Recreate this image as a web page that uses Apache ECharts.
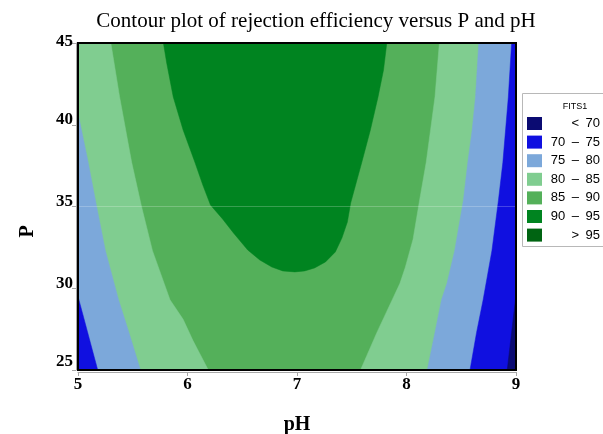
<!DOCTYPE html>
<html>
<head>
<meta charset="utf-8">
<script src="https://cdn.jsdelivr.net/npm/echarts@6/dist/echarts.min.js"></script>
<style>
  html, body { margin: 0; padding: 0; background: #fff; }
  #chart { width: 603px; height: 434px; }
</style>
</head>
<body>
<div id="chart"></div>
<script>
// contour levels as in the legend (top to bottom)
const levels = ["<\u200270", "70\u2002–\u200275", "75\u2002–\u200280", "80\u2002–\u200285", "85\u2002–\u200290", "90\u2002–\u200295", ">\u200295"];
const levelColors = ["#0b0b72", "#1010e0", "#7ca8da", "#80cd90", "#54b05a", "#008420", "#006412"];

// contour lines, [pH, P], top to bottom
const left70 = [[5.00, 29.5], [5.18, 25.0]];
const left75 = [[5.00, 40.7], [5.09, 37.8], [5.17, 35.0], [5.25, 32.3], [5.37, 29.3], [5.46, 27.4], [5.57, 25.0]];
const left80 = [[5.30, 45.0], [5.38, 41.7], [5.49, 37.7], [5.58, 35.0], [5.68, 32.3], [5.84, 29.3], [5.96, 28.1], [6.05, 26.8], [6.19, 25.0]];
const right85 = [[8.30, 45.0], [8.26, 41.7], [8.22, 39.7], [8.18, 37.7], [8.12, 35.4], [8.06, 33.0], [7.99, 31.3], [7.94, 30.3], [7.87, 29.3], [7.73, 27.3], [7.58, 25.0]];
const right80 = [[8.66, 45.0], [8.63, 41.7], [8.60, 39.7], [8.56, 37.7], [8.52, 35.4], [8.44, 32.3], [8.37, 30.3], [8.32, 29.3], [8.26, 27.3], [8.19, 25.0]];
const right75 = [[8.96, 45.0], [8.93, 41.7], [8.88, 37.7], [8.84, 35.4], [8.78, 32.3], [8.70, 29.3], [8.64, 27.3], [8.58, 25.0]];
const right70 = [[9.00, 29.6], [8.96, 27.3], [8.92, 25.0]];
// 90 contour, a U open at the top edge
const inner90 = [[5.78, 45.0], [5.81, 43.78], [5.87, 41.70], [5.96, 39.68], [6.07, 37.66], [6.14, 36.31], [6.21, 35.09],
  [6.32, 34.24], [6.42, 33.38], [6.55, 32.34], [6.66, 31.73], [6.77, 31.30], [6.87, 31.06], [6.98, 31.00], [7.07, 31.06],
  [7.16, 31.24], [7.26, 31.61], [7.35, 32.22], [7.41, 33.07], [7.46, 34.05], [7.49, 35.21], [7.54, 36.44], [7.59, 37.66],
  [7.67, 39.68], [7.74, 41.70], [7.79, 43.35], [7.82, 45.0]];

const pHMin = 5, pHMax = 9, pMin = 25, pMax = 45;
const toRight = (line) => [...line, [pHMax, pMin], [pHMax, pMax]];
const toLeft = (line) => [[pHMin, pMax], ...line, [pHMin, pMin]];

// regions per level, in drawing order
const regions = [
  [4, [[[pHMin, pMin], [pHMax, pMin], [pHMax, pMax], [pHMin, pMax]]]],
  [3, [toLeft(left80), toRight(right85)]],
  [2, [[...left75, [pHMin, pMin]], toRight(right80)]],
  [1, [[...left70, [pHMin, pMin]], toRight(right75)]],
  [0, [[...right70, [pHMax, pMin]]]],
  [5, [inner90]],
  [6, []],
];

const chart = echarts.init(document.getElementById("chart"));

const series = regions.map(([lv, polys]) => ({
  name: levels[lv],
  type: "custom",
  coordinateSystem: "cartesian2d",
  clip: true,
  silent: true,
  itemStyle: { color: levelColors[lv] },
  data: polys.map(p => p[0]),
  renderItem(params, api) {
    const poly = polys[params.dataIndex];
    return {
      type: "polygon",
      shape: { points: poly.map(pt => api.coord(pt)) },
      style: { fill: levelColors[lv], stroke: levelColors[lv], lineWidth: 0.5 },
    };
  },
  markLine: lv === 5 ? {
    silent: true, symbol: "none", label: { show: false },
    lineStyle: { color: "rgba(255,255,255,0.22)", width: 1, type: "solid" },
    data: [{ yAxis: 35 }],
  } : undefined,
}));

// black frame round the plot
series.push({
  type: "custom",
  name: "frame",
  coordinateSystem: "cartesian2d",
  silent: true,
  z: 10,
  data: [[pHMin, pMin]],
  renderItem(params) {
    const c = params.coordSys;
    return { type: "rect", shape: { x: c.x, y: c.y, width: c.width, height: c.height },
      style: { fill: null, stroke: "#000", lineWidth: 2 } };
  },
});

const serif = "Liberation Serif, Times New Roman, serif";
const axisCommon = {
  type: "value",
  offset: 2,
  axisLine: { show: true, lineStyle: { color: "#a8a8a8", width: 1 } },
  axisTick: { show: true, length: 4, lineStyle: { color: "#a8a8a8" } },
  splitLine: { show: false },
  axisLabel: { fontFamily: serif, fontWeight: "bold", fontSize: 17, color: "#000", margin: 3 },
  nameLocation: "middle",
  nameTextStyle: { fontFamily: serif, fontWeight: "bold", fontSize: 20, color: "#000" },
};

chart.setOption({
  animation: false,
  backgroundColor: "#fff",
  title: [
    { text: "Contour plot of rejection efficiency versus P and pH", left: 311, top: 6, textAlign: "center",
      textStyle: { fontFamily: serif, fontWeight: "normal", fontSize: 21, color: "#000" } },
    { text: "FITS1", left: 570, top: 97, textAlign: "center",
      textStyle: { fontFamily: "Liberation Sans Narrow, Liberation Sans, sans-serif", fontWeight: "normal", fontSize: 9, color: "#000" } },
  ],
  grid: { left: 78, right: 87, top: 43, bottom: 64, containLabel: false, outerBoundsMode: "none" },
  xAxis: { ...axisCommon, min: pHMin, max: pHMax, interval: 1, name: "pH", nameGap: 43,
    axisLabel: { ...axisCommon.axisLabel, margin: 4 } },
  yAxis: { ...axisCommon, min: pMin, max: pMax, interval: 5, name: "P", nameGap: 38, nameRotate: 90,
    nameTextStyle: { ...axisCommon.nameTextStyle, padding: [0, 50, 0, 0] },
    axisLabel: {
      ...axisCommon.axisLabel,
      formatter: (v) => v === pMax ? `{t|${v}}` : v === pMin ? `{l|${v}}` : `{m|${v}}`,
      rich: {
        t: { fontFamily: serif, fontWeight: "bold", fontSize: 17, padding: [0, 0, 3, 0] },
        m: { fontFamily: serif, fontWeight: "bold", fontSize: 17, padding: [0, 0, 10, 0] },
        l: { fontFamily: serif, fontWeight: "bold", fontSize: 17, padding: [0, 0, 16, 0] },
      },
    } },
  legend: {
    data: levels,
    orient: "vertical",
    left: 527, top: 117,
    itemWidth: 15, itemHeight: 13, itemGap: 5.6,
    icon: "rect",
    selectedMode: false,
    padding: 0,
    formatter: (name) => `{v|${name}}`,
    textStyle: {
      color: "#000", fontFamily: "Liberation Sans, Arial, sans-serif", fontSize: 13,
      rich: { v: { width: 53, align: "right", fontSize: 13, fontFamily: "Liberation Sans, Arial, sans-serif" } },
    },
  },
  graphic: [
    { type: "rect", left: 522, top: 93, shape: { width: 90, height: 153 }, style: { fill: "#fff", stroke: "#b8b8b8", lineWidth: 1 }, z: -1 },
  ],
  series,
});
</script>
</body>
</html>
